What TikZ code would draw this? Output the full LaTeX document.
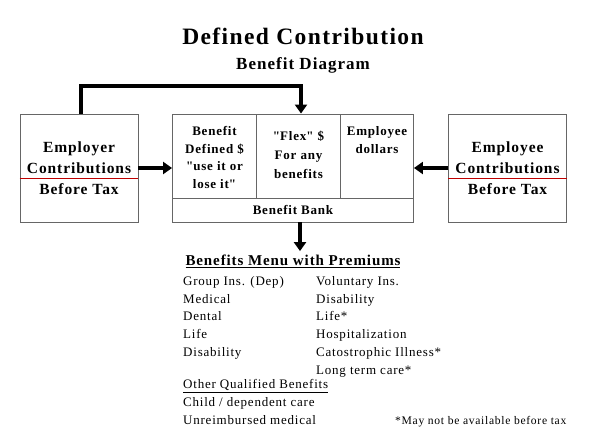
\documentclass[tikz,border=0pt]{standalone}
\usepackage{fontspec}
\setmainfont{Liberation Serif}[LetterSpace=6]
\usetikzlibrary{positioning, arrows.meta}

\begin{document}
\begin{tikzpicture}[
    x=1pt, y=-1pt,
    frame/.style={
        rectangle,
        draw=black!60,
        line width=0.9pt,
        inner sep=0pt
    },
    sidebox/.style={
        frame,
        minimum width=118pt,
        minimum height=108pt,
        align=center,
        font=\fontsize{15.5}{21}\selectfont\bfseries
    },
    celltext/.style={
        align=center,
        inner sep=0pt,
        font=\fontsize{13}{17.5}\selectfont\bfseries
    },
    listtext/.style={
        align=left,
        anchor=north west,
        inner sep=0pt,
        font=\fontsize{13}{17.8}\selectfont
    },
    redrule/.style={
        draw=red!75!black,
        line width=0.6pt
    },
    arr/.style={
        line width=4.5pt,
        -{Triangle[length=9pt,width=12pt]}
    }
]
\useasboundingbox (0,0) rectangle (591,444);

\node (title) at (303,36) {\fontsize{23.5}{26}\selectfont\bfseries Defined Contribution};
\node (subtitle) at (303,65) {\fontsize{17}{18}\selectfont\bfseries Benefit Diagram};

% side boxes
\node[sidebox] (employer) at (79,168) {Employer\\Contributions\\Before Tax};
\node[sidebox] (employee) at (507.5,168) {Employee\\Contributions\\Before Tax};
\draw[redrule] ([yshift=-10pt]employer.west) -- ([yshift=-10pt]employer.east);
\draw[redrule] ([yshift=-10pt]employee.west) -- ([yshift=-10pt]employee.east);

% benefit bank
\node[frame, minimum width=84pt, minimum height=84pt] (defined) at (214.5,156) {};
\node[frame, minimum width=84pt, minimum height=84pt] (flex) at (298.5,156) {};
\node[frame, minimum width=73pt, minimum height=84pt] (dollars) at (377,156) {};
\node[frame, minimum width=241pt, minimum height=24pt] (bank) at (293,210) {};
\node[celltext] (bankname) at (bank) {Benefit Bank};

\node[celltext, below=13pt of defined.north] (definedtext) {Benefit\\Defined \$\\\textquotedbl use it or\\lose it\textquotedbl};
\node[celltext, below=17pt of flex.north, font=\fontsize{13}{19}\selectfont\bfseries] (flextext) {\textquotedbl Flex\textquotedbl{} \$\\For any\\benefits};
\node[celltext, below=13pt of dollars.north] (dollarstext) {Employee\\dollars};

% arrows into the bank
\coordinate (bend1) at (81,86);
\coordinate (bend2) at (301,86);
\draw[arr, line join=miter]
    (employer.north -| bend1) -- (bend1) -- (bend2) -- (flex.north -| bend2);
\draw[arr] (employer.east |- 0,168) -- (defined.west |- 0,168);
\draw[arr] (employee.west |- 0,168) -- (dollars.east |- 0,168);

% menu
\node (menu) at (293,261) {\fontsize{15}{17}\selectfont\bfseries\underline{Benefits Menu with Premiums}};
\draw[arr] (bank.south -| 300,0) -- (menu.north -| 300,0);

\node[listtext] (groupins) at (183,276) {Group Ins. (Dep)\\Medical\\Dental\\Life\\Disability};
\node[listtext] (voluntary) at (316,276) {Voluntary Ins.\\Disability\\Life*\\Hospitalization\\Catostrophic Illness*\\Long term care*};
\node[listtext] (otherhead) at (183,379) {\underline{Other Qualified Benefits}};
\node[listtext] (other) at (183,397) {Child / dependent care\\Unreimbursed medical};
\node[anchor=west, inner sep=0pt] (footnote) at (395,422) {\fontsize{11.6}{13}\selectfont *May not be available before tax};

\end{tikzpicture}
\end{document}
